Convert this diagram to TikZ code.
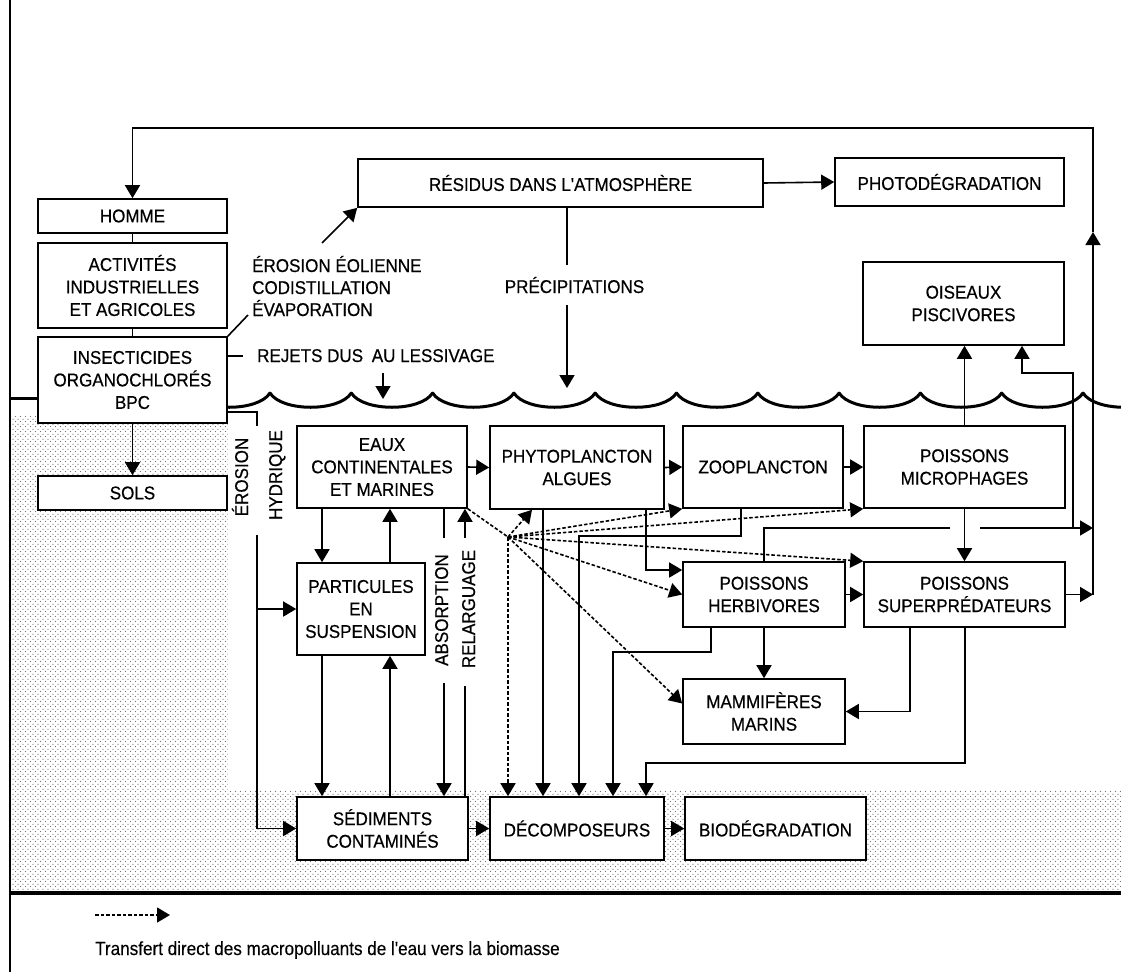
\documentclass[tikz,border=0pt]{standalone}
\usepackage{fontspec}
\newfontfamily\bxfam{Liberation Sans}[FakeStretch=0.92, FakeBold=0.5]
\newfontfamily\lgfam{Liberation Sans}[FakeStretch=0.9, FakeBold=0.3]
\usetikzlibrary{arrows.meta,patterns}
\pgfdeclarepatternformonly{stipple}{\pgfqpoint{-1pt}{-1pt}}{\pgfqpoint{5pt}{5pt}}{\pgfqpoint{5pt}{5pt}}{%
  \pgfpathcircle{\pgfqpoint{0.5pt}{0.5pt}}{0.6pt}
  \pgfpathcircle{\pgfqpoint{3pt}{2.8pt}}{0.6pt}
  \pgfusepath{fill}}
\newcommand\bxfont{\bxfam\fontsize{18.5}{22.5}\selectfont}
\newcommand\lgfont{\lgfam\fontsize{19}{22}\selectfont}
\begin{document}
\begin{tikzpicture}[x=1pt,y=-1pt,
  box/.style={draw, fill=white, line width=1.6pt, align=center, inner sep=0pt, font=\bxfont},
  lab/.style={inner sep=0pt, font=\bxfont},
  conn/.style={line width=1.6pt},
  arr/.style={conn, -{Triangle[length=13pt,width=15pt]}},
  dsh/.style={conn, dash pattern=on 3.5pt off 2pt},
  darr/.style={arr, dash pattern=on 3.5pt off 2pt},
  wave/.style={line width=3pt, line cap=round}]
\useasboundingbox (0,0) rectangle (1121,972);

% sediment stipple
\fill[pattern=stipple, pattern color=black!55]
  (10,415) -- (228,415) -- (228,790) -- (1121,790) -- (1121,893) -- (10,893) -- cycle;

% frame
\draw[line width=1.6pt] (10,0) -- (10,972);
\draw[line width=4pt] (10,893) -- (1121,893);

% water surface
\coordinate (wl) at (10,398);
\begin{scope}
  \clip (227,370) rectangle (1121,425);
  \foreach \k in {-1,...,10} {
    \pgfmathsetmacro\xa{270+81.3*\k}
    \pgfmathsetmacro\xb{\xa+81.3}
    \draw[wave] (\xa,393) .. controls (\xa+12,412) and (\xb-12,412) .. (\xb,393);
  }
\end{scope}

% boxes
\node[box, minimum width=189pt, minimum height=34pt] (homme) at (132.5,216) {HOMME};
\node[box, minimum width=189pt, minimum height=85pt] (activ) at (132.5,285.5) {ACTIVITÉS\\INDUSTRIELLES\\ET AGRICOLES};
\node[box, minimum width=189pt, minimum height=86pt] (insect) at (132.5,380) {INSECTICIDES\\ORGANOCHLORÉS\\BPC};
\node[box, minimum width=189pt, minimum height=34pt] (sols) at (132.5,493) {SOLS};
\node[box, minimum width=405pt, minimum height=48pt] (residus) at (560.5,183) {RÉSIDUS DANS L'ATMOSPHÈRE};
\node[box, minimum width=229pt, minimum height=48pt] (photo) at (949.5,182) {PHOTODÉGRADATION};
\node[box, minimum width=201pt, minimum height=83pt] (oiseaux) at (963.5,303.5) {OISEAUX\\PISCIVORES};
\node[box, minimum width=170pt, minimum height=82pt] (eaux) at (382,467) {EAUX\\CONTINENTALES\\ET MARINES};
\node[box, minimum width=174pt, minimum height=83pt] (phyto) at (577,467.5) {PHYTOPLANCTON\\ALGUES};
\node[box, minimum width=160pt, minimum height=82pt] (zoo) at (763,467) {ZOOPLANCTON};
\node[box, minimum width=201pt, minimum height=82pt] (micro) at (964.5,467) {POISSONS\\MICROPHAGES};
\node[box, minimum width=128pt, minimum height=92pt] (partic) at (361,609) {PARTICULES\\EN\\SUSPENSION};
\node[box, minimum width=162pt, minimum height=65pt] (herbi) at (764,594.5) {POISSONS\\HERBIVORES};
\node[box, minimum width=201pt, minimum height=65pt] (super) at (964.5,594.5) {POISSONS\\SUPERPRÉDATEURS};
\node[box, minimum width=162pt, minimum height=65pt] (mammi) at (764,711.5) {MAMMIFÈRES\\MARINS};
\node[box, minimum width=171pt, minimum height=63pt] (sedim) at (382.5,828.5) {SÉDIMENTS\\CONTAMINÉS};
\node[box, minimum width=174pt, minimum height=63pt] (decomp) at (577,828.5) {DÉCOMPOSEURS};
\node[box, minimum width=181pt, minimum height=63pt] (biodeg) at (775.5,828.5) {BIODÉGRADATION};

% left water line
\draw[line width=3pt] (wl) -- (wl -| insect.west);

% guide coordinates
\coordinate (xR) at (1093,0);
\coordinate (fbTop) at (1093,128);
\coordinate (fbArr) at (1093,232);
\coordinate (hL) at (950,528);
\coordinate (hR) at (980,528);
\coordinate (jn) at (1073,528);
\coordinate (ob) at (1022,373);
\coordinate (c910) at (910,0);
\coordinate (c965) at (965,763);
\coordinate (c646) at (646,763);
\coordinate (c711) at (711,652);
\coordinate (c613) at (613,652);
\coordinate (c741) at (741,536);
\coordinate (c579) at (579,536);
\coordinate (c543) at (543,0);
\coordinate (c646b) at (646,570);
\coordinate (c532) at (532,0);
\coordinate (hub) at (508,537);
\coordinate (c322) at (322,0);
\coordinate (c390) at (390,0);
\coordinate (ca1) at (444,538);
\coordinate (ca2) at (444,683);
\coordinate (cr1) at (465,686);
\coordinate (cr2) at (465,538);
\coordinate (ce0) at (257,412);
\coordinate (ce1) at (257,426);
\coordinate (ce2) at (257,535);
\coordinate (eol) at (322,243);
\coordinate (lead) at (248,315);
\coordinate (rej) at (243,356);
\coordinate (cp1) at (567,265);
\coordinate (cp2) at (567,305);
\coordinate (cp3) at (567,388);
\coordinate (ra1) at (383,373);
\coordinate (ra2) at (383,399);
\coordinate (lg1) at (95,915);
\coordinate (lg2) at (170,915);

% left column
\draw[conn] (homme.south) -- (activ.north);
\draw[conn] (activ.south) -- (insect.north);
\draw[arr] (insect.south) -- (sols.north);
\draw[conn] (insect.north east) -- (lead);
\draw[conn] (insect.east |- rej) -- (rej);
\draw[arr] (eol) -- (residus.south west);
\draw[arr] (residus.east) -- (photo.west);
\draw[conn] (residus.south -| cp1) -- (cp1);
\draw[arr] (cp2) -- (cp3);
\draw[arr] (ra1) -- (ra2);

% feedback to HOMME
\draw[arr] (super.east -| xR) -- (fbArr);
\draw[arr] (fbArr) -- (fbTop) -| (homme.north);

% erosion hydrique
\draw[conn] (insect.east |- ce0) -- (ce0) -- (ce1);
\draw[arr] (ce2) |- (sedim.west);
\draw[arr] (ce2 |- partic.west) -- (partic.west);

% water / particles / sediments
\draw[arr] (eaux.south -| c322) -- (partic.north -| c322);
\draw[arr] (partic.north -| c390) -- (eaux.south -| c390);
\draw[arr] (partic.south -| c322) -- (sedim.north -| c322);
\draw[arr] (sedim.north -| c390) -- (partic.south -| c390);
\draw[conn] (eaux.south -| ca1) -- (ca1);
\draw[arr] (ca2) -- (sedim.north -| ca2);
\draw[conn] (sedim.north -| cr1) -- (cr1);
\draw[arr] (cr2) -- (eaux.south -| cr2);

% food chain
\draw[arr] (eaux.east) -- (phyto.west);
\draw[arr] (phyto.east) -- (zoo.west);
\draw[arr] (zoo.east) -- (micro.west);
\draw[arr] (herbi.east) -- (super.west);
\draw[arr] (micro.south) -- (super.north);
\draw[arr] (micro.north) -- (micro.north |- oiseaux.south);
\draw[arr] (super.east) -- (super.east -| xR);
\draw[arr] (herbi.south) -- (mammi.north);
\draw[arr] (super.south -| c910) |- (mammi.east);
\draw[conn] (herbi.north) |- (hL);
\draw[arr] (hR) -- (hR -| xR);
\draw[arr] (jn) |- (ob) -- (ob |- oiseaux.south);
\draw[arr] (phyto.south -| c646b) |- (herbi.west |- c646b);

% to decomposers
\draw[arr] (phyto.south -| c543) -- (decomp.north -| c543);
\draw[arr] (zoo.south -| c741) |- (c579) -- (c579 |- decomp.north);
\draw[arr] (herbi.south -| c711) |- (c613) -- (c613 |- decomp.north);
\draw[arr] (super.south -| c965) |- (c646) -- (c646 |- decomp.north);
\draw[arr] (sedim.east) -- (decomp.west);
\draw[arr] (decomp.east) -- (biodeg.west);

% direct transfer (dashed)
\draw[dsh] (eaux.south east) -- (hub);
\draw[darr] (hub) -- (phyto.south -| c532);
\draw[darr] (hub) -- (zoo.south west);
\draw[darr] (hub) -- (micro.south west);
\draw[darr] (hub) -- (super.north west);
\draw[darr] (hub) -- (herbi.west);
\draw[darr] (hub) -- ([yshift=8pt]mammi.west);
\draw[darr] (hub) -- (hub |- decomp.north);

% labels
\node[lab, anchor=base west] (ero1) at (252,272) {ÉROSION ÉOLIENNE};
\node[lab, anchor=base west] (ero2) at (252,294) {CODISTILLATION};
\node[lab, anchor=base west] (ero3) at (252,316) {ÉVAPORATION};
\node[lab, anchor=base west] (rejets) at (257,362) {REJETS DUS\hspace{4pt} AU LESSIVAGE};
\node[lab, anchor=base] (precip) at (574.5,293) {PRÉCIPITATIONS};
\node[lab, rotate=90, anchor=base] (erosh) at (248,477) {ÉROSION};
\node[lab, rotate=90, anchor=base] (hydr) at (282,475) {HYDRIQUE};
\node[lab, rotate=90, anchor=base] (absorp) at (448,610) {ABSORPTION};
\node[lab, rotate=90, anchor=base] (relarg) at (475,609) {RELARGUAGE};

% legend
\draw[darr] (lg1) -- (lg2);
\node[inner sep=0pt, font=\lgfont, anchor=base west] (legtext) at (95,955) {Transfert direct des macropolluants de l'eau vers la biomasse};
\end{tikzpicture}
\end{document}
